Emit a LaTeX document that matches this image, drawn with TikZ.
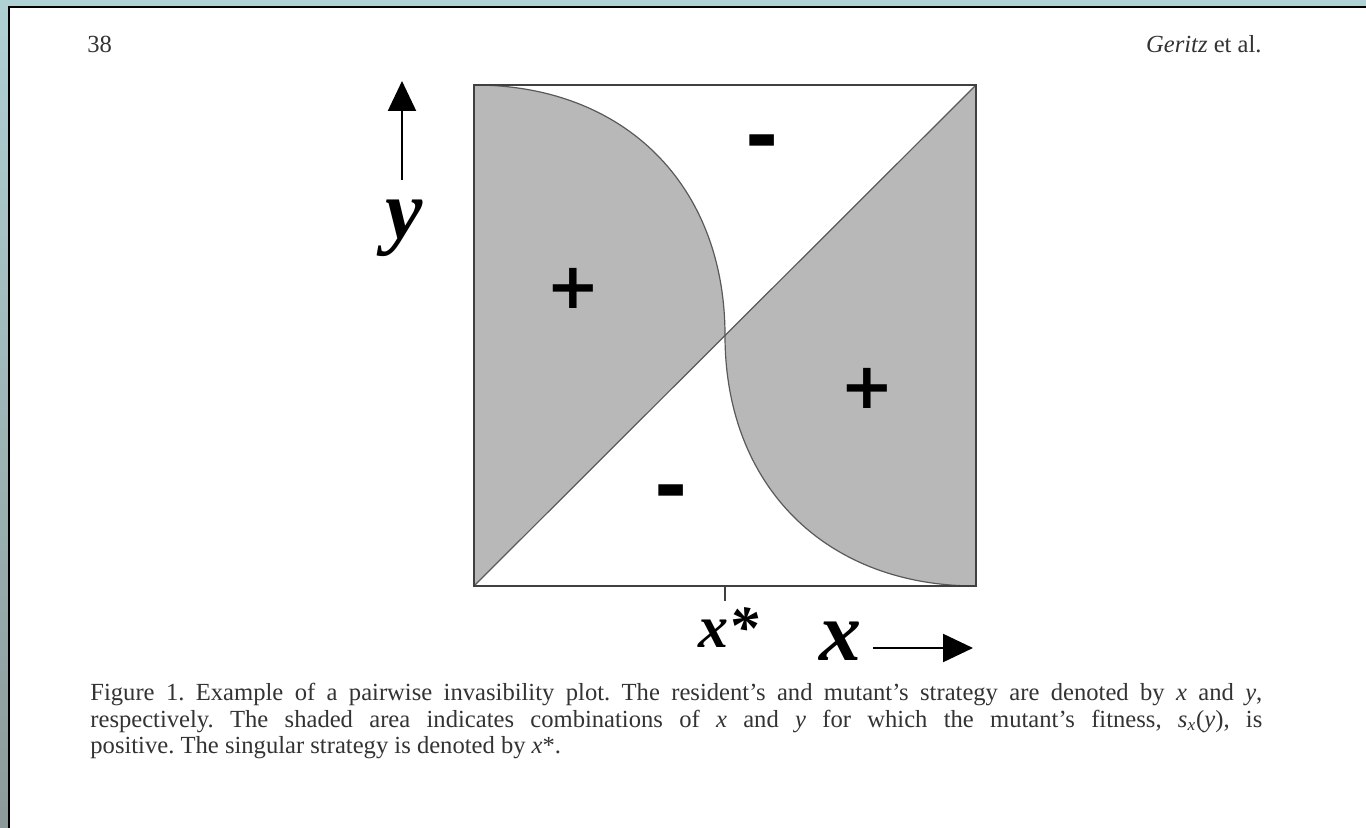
\documentclass[tikz,border=0pt]{standalone}
\usepackage{fontspec}
\setmainfont{Liberation Serif}
\newfontfamily\signfont{DejaVu Sans}
\usetikzlibrary{positioning, arrows.meta}
\definecolor{frameteal}{HTML}{B0D1D4}
\definecolor{framegray}{HTML}{8C9A9A}
\definecolor{pipshade}{HTML}{B8B8B8}

\begin{document}
\begin{tikzpicture}[x=0.5pt, y=-0.5pt,
  region/.style={fill=pipshade, draw=none},
  edge/.style={draw=black!65, line width=0.6pt},
  plotbox/.style={draw=black!75, line width=1pt},
  sign/.style={font=\signfont\fontsize{32}{32}\selectfont\bfseries, inner sep=0pt},
  minussign/.style={sign, font=\signfont\fontsize{40}{40}\selectfont\bfseries},
  axislabel/.style={font=\fontsize{42}{42}\selectfont\bfseries\itshape, inner sep=0pt},
  axisarrow/.style={-{Triangle[length=15pt, width=14pt]}, line width=1.1pt},
  pagetext/.style={font=\fontsize{12.3}{13.2}\selectfont\frenchspacing, text=black!80, inner sep=0pt},
]
\useasboundingbox (0,0) rectangle (1366,828);
% viewer frame and page
\fill[frameteal] (0,0) rectangle (1366,828);
\shade[top color=frameteal, bottom color=framegray] (0,0) rectangle (8,828);
\fill[white] (8,6) rectangle (1366,828);
\draw[black, line width=1.2pt] (9,828) -- (9,7) -- (1366,7);
% running head
\node[pagetext, anchor=base west] (pagenum) at (87,53) {38};
\node[pagetext, anchor=base east] (runhead) at (1262,53) {\textit{Geritz} et al.};
% plot corners and singular point
\coordinate (bl) at (474,586);
\coordinate (tl) at (474,85);
\coordinate (tr) at (976,85);
\coordinate (br) at (976,586);
\coordinate (ss) at (725,335.5);
% shaded regions (mutant fitness positive)
\fill[region] (bl) -- (tl) .. controls (624.6,85) and (725,185.2) .. (ss) -- cycle;
\fill[region] (tr) -- (br) .. controls (825.4,586) and (725,485.8) .. (ss) -- cycle;
% boundaries
\draw[edge] (bl) -- (tr);
\draw[edge] (tl) .. controls (624.6,85) and (725,185.2) .. (ss)
  .. controls (725,485.8) and (825.4,586) .. (br);
\draw[plotbox] (bl) rectangle (tr);
\coordinate (tick) at (725,601);
\draw[plotbox] (ss |- bl) -- (tick);
% signs
\node[sign] (plusA) at (573,288) {+};
\node[sign] (plusB) at (867,388) {+};
\node[minussign] (minusA) at (762,149) {-};
\node[minussign] (minusB) at (671,499) {-};
% axes
\node[axislabel] (ylab) at (404,228) {y};
\coordinate (ytail) at (402,180);
\coordinate (yhead) at (402,81);
\draw[axisarrow] (ytail) -- (yhead);
\node[axislabel, font=\fontsize{30}{30}\selectfont\bfseries\itshape] (xstar) at (728,628) {x*};
\node[axislabel] (xlab) at (840,641) {x};
\coordinate (xtail) at (873,648);
\coordinate (xhead) at (973,648);
\draw[axisarrow] (xtail) -- (xhead);
% caption
\node[pagetext, text width=586pt, align=justify, anchor=north west] (caption) at (90,683)
  {Figure 1. Example of a pairwise invasibility plot. The resident's and mutant's strategy are denoted by \textit{x} and \textit{y},\linebreak
   respectively. The shaded area indicates combinations of \textit{x} and \textit{y} for which the mutant's fitness, \textit{s}\textsubscript{\textit{x}}(\textit{y}), is\linebreak
   positive. The singular strategy is denoted by \textit{x}*.};
\end{tikzpicture}
\end{document}
